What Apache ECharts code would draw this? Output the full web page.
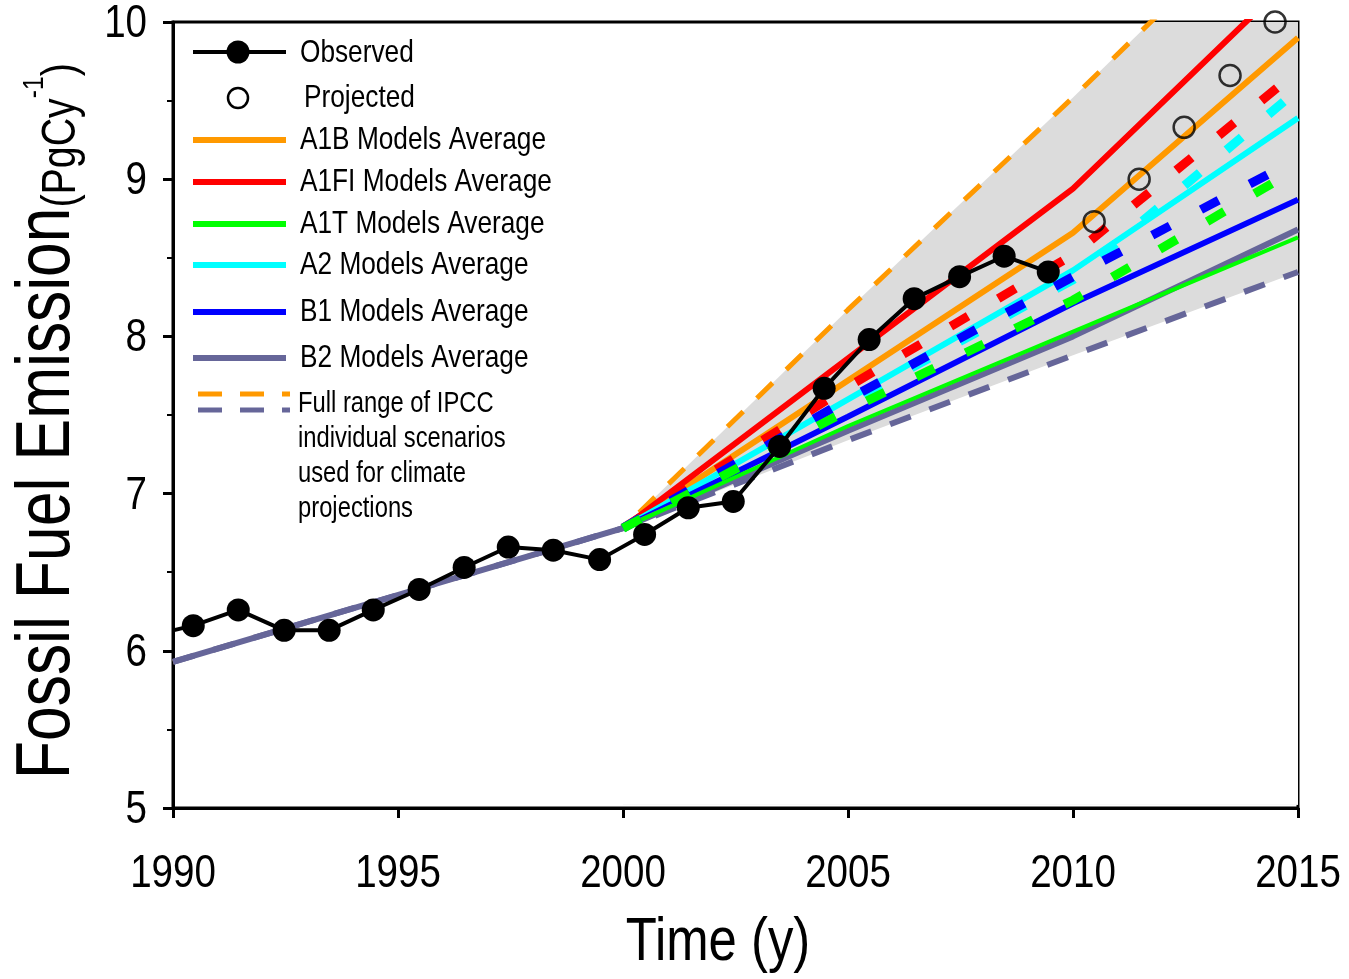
<!DOCTYPE html>
<html><head><meta charset="utf-8">
<script src="https://cdn.jsdelivr.net/npm/echarts@6/dist/echarts.min.js"></script>
<style>html,body{margin:0;padding:0;background:#fff}#c{width:1349px;height:979px}</style>
</head><body><div id="c"></div>
<script>
const FONT = '"Liberation Sans", Arial, sans-serif';
const NARROW = 0.82; // horizontal squeeze to mimic a condensed face

// ---- data ----
const xTicks = [1990, 1995, 2000, 2005, 2010, 2015];
const yTicks = [5, 6, 7, 8, 9, 10];

const obsYears  = [1990, 1990.45, 1991.45, 1992.47, 1993.47, 1994.45, 1995.47, 1996.47, 1997.45, 1998.45, 1999.48,
                   2000.48, 2001.45, 2002.45, 2003.48, 2004.47, 2005.47, 2006.47, 2007.48, 2008.47, 2009.45];
const obsValues = [6.13, 6.16, 6.26, 6.13, 6.13, 6.26, 6.39, 6.53, 6.66, 6.64, 6.58,
                   6.74, 6.91, 6.95, 7.30, 7.67, 7.98, 8.24, 8.38, 8.51, 8.41];

const projYears  = [2010.47, 2011.47, 2012.47, 2013.49, 2014.49];
const projValues = [8.73, 9.00, 9.33, 9.66, 10.00];

const histYears  = [1990, 2000];
const histValues = [5.93, 6.78];

const scenYears = [2000, 2005, 2010, 2015];
const a1bAvg  = [6.78, 7.72, 8.66, 9.90];
const a1fiAvg = [6.78, 7.86, 8.94, 10.32];
const a1tAvg  = [6.78, 7.43, 8.03, 8.63];
const a2Avg   = [6.78, 7.60, 8.42, 9.39];
const b1Avg   = [6.78, 7.49, 8.21, 8.87];
const b2Avg   = [6.78, 7.40, 8.00, 8.68];

const a1fiAlt = [6.78, 7.68, 8.52, 9.69];
const a2Alt   = [6.78, 7.58, 8.36, 9.57];
const b1Alt   = [6.78, 7.60, 8.38, 9.13];
const a1tAlt  = [6.78, 7.53, 8.23, 9.07];

const rangeYears = [1990, 2000, 2005, 2010, 2015];
const rangeHigh  = [5.93, 6.78, 8.17, 9.52, 10.91];
const rangeLow   = [5.93, 6.78, 7.34, 7.88, 8.41];

// ---- helpers ----
const pairs = (xs, ys) => xs.map((x, i) => [x, ys[i]]);
const fillHigh = pairs(rangeYears, rangeHigh).filter(p => p[0] >= 2000);
const fillLow  = pairs(rangeYears, rangeLow).filter(p => p[0] >= 2000);
const b2Full = pairs(histYears, histValues).concat(pairs(scenYears, b2Avg).slice(1));
const AREA_FLOOR = yTicks[0] + 0.02; // keep fill off the axis line

function solid(name, data, color, width) {
  return { name, type: 'line', data, symbol: 'none', silent: true,
    lineStyle: { color, width, cap: 'butt' }, z: 3 };
}
function dashed(name, data, color, width, dash, z) {
  return { name, type: 'line', data, symbol: 'none', silent: true,
    lineStyle: { color, width, type: dash, cap: 'butt' }, z: z || 4 };
}
function txt(x, y, text, size, extra) {
  return Object.assign({ type: 'text', x, y, scaleX: NARROW, z: 100,
    style: Object.assign({ text, fontSize: size, fontFamily: FONT, fill: '#000', verticalAlign: 'middle' }, extra || {}) });
}

const legendRows = [
  { label: 'A1B Models Average',  color: '#FF9900', y: 140 },
  { label: 'A1FI Models Average', color: '#FF0000', y: 182 },
  { label: 'A1T Models Average',  color: '#00FF00', y: 224 },
  { label: 'A2 Models Average',   color: '#00FFFF', y: 265 },
  { label: 'B1 Models Average',   color: '#0000FF', y: 312 },
  { label: 'B2 Models Average',   color: '#666699', y: 358 }
];

const graphic = [];
graphic.push({ type: 'line', shape: { x1: 193, y1: 52, x2: 286, y2: 52 }, style: { stroke: '#000', lineWidth: 4 } });
graphic.push({ type: 'circle', shape: { cx: 238, cy: 52, r: 11.5 }, style: { fill: '#000' } });
graphic.push(txt(300, 53, 'Observed', 32));
graphic.push({ type: 'circle', shape: { cx: 238, cy: 98, r: 10 }, style: { fill: 'none', stroke: '#000', lineWidth: 2.5 } });
graphic.push(txt(304, 98, 'Projected', 32));
legendRows.forEach(r => {
  graphic.push({ type: 'line', shape: { x1: 193, y1: r.y, x2: 286, y2: r.y }, style: { stroke: r.color, lineWidth: 6 } });
  graphic.push(txt(300, r.y, r.label, 32));
});
graphic.push({ type: 'line', shape: { x1: 198, y1: 394, x2: 290, y2: 394 }, style: { stroke: '#FF9900', lineWidth: 5, lineDash: [24, 18] } });
graphic.push({ type: 'line', shape: { x1: 198, y1: 410, x2: 290, y2: 410 }, style: { stroke: '#666699', lineWidth: 5, lineDash: [24, 18] } });
graphic.push(txt(298, 386, 'Full range of IPCC\nindividual scenarios\nused for climate\nprojections', 29,
  { lineHeight: 35, verticalAlign: 'top' }));
// axis titles
graphic.push(txt(718, 943, 'Time (y)', 62, { align: 'center' }));
graphic.push({
  type: 'text', x: 86, y: 779, rotation: Math.PI / 2, scaleX: NARROW, z: 100,
  style: {
    text: '{a|Fossil Fuel Emission}{b|(PgCy}{c|-1}{b|)}',
    align: 'left', verticalAlign: 'bottom',
    rich: {
      a: { fontSize: 76, lineHeight: 76, fontFamily: FONT, fill: '#000', verticalAlign: 'bottom' },
      b: { fontSize: 48, lineHeight: 48, fontFamily: FONT, fill: '#000', verticalAlign: 'bottom' },
      c: { fontSize: 30, fontFamily: FONT, fill: '#000', verticalAlign: 'top', padding: [10, 0, 0, 0] }
    }
  }
});

const labelStyle = { fontSize: 47, fontFamily: FONT, fill: '#000', verticalAlign: 'middle' };

const option = {
  animation: false,
  backgroundColor: '#fff',
  grid: { left: 173, right: 51, top: 22, bottom: 171, show: true, borderColor: '#000', borderWidth: 3, backgroundColor: 'transparent' },
  xAxis: {
    type: 'value', min: xTicks[0], max: xTicks[xTicks.length - 1], interval: 5,
    axisLine: { lineStyle: { color: '#000', width: 3 } },
    axisTick: { length: 10, lineStyle: { color: '#000', width: 3 } },
    axisLabel: { show: false },
    splitLine: { show: false }
  },
  yAxis: {
    type: 'value', min: yTicks[0], max: yTicks[yTicks.length - 1], interval: 1,
    axisLine: { lineStyle: { color: '#000', width: 3 } },
    axisTick: { length: 10, lineStyle: { color: '#000', width: 3 } },
    minorTick: { show: true, splitNumber: 2, length: 6, lineStyle: { color: '#000', width: 2 } },
    minorSplitLine: { show: false },
    axisLabel: { show: false },
    splitLine: { show: false }
  },
  graphic: graphic,
  series: [
    { name: 'rangeHighFill', type: 'line', data: fillHigh, symbol: 'none', silent: true,
      lineStyle: { width: 0, opacity: 0 }, areaStyle: { color: '#dcdcdc', opacity: 1, origin: AREA_FLOOR }, z: 1 },
    { name: 'rangeLowMask', type: 'line', data: fillLow, symbol: 'none', silent: true,
      lineStyle: { width: 0, opacity: 0 }, areaStyle: { color: '#ffffff', opacity: 1, origin: AREA_FLOOR }, z: 1 },
    dashed('Full range high', pairs(rangeYears, rangeHigh), '#FF9900', 5, [22, 19], 2),
    dashed('Full range low', pairs(rangeYears, rangeLow), '#666699', 6, [22, 20], 2),
    solid('A1B Models Average', pairs(scenYears, a1bAvg), '#FF9900', 6),
    solid('A1FI Models Average', pairs(scenYears, a1fiAvg), '#FF0000', 6),
    solid('A2 Models Average', pairs(scenYears, a2Avg), '#00FFFF', 6),
    solid('B1 Models Average', pairs(scenYears, b1Avg), '#0000FF', 6),
    solid('B2 Models Average', b2Full, '#666699', 6),
    solid('A1T Models Average', pairs(scenYears, a1tAvg), '#00FF00', 4),
    dashed('A1FI alt', pairs(scenYears, a1fiAlt), '#FF0000', 9, [20, 35]),
    dashed('A2 alt', pairs(scenYears, a2Alt), '#00FFFF', 9, [20, 35]),
    dashed('B1 alt', pairs(scenYears, b1Alt), '#0000FF', 9, [20, 35]),
    dashed('A1T alt', pairs(scenYears, a1tAlt), '#00FF00', 9, [20, 35]),
    { name: 'Observed', type: 'line', silent: true, z: 6,
      data: obsYears.map((x, i) => i === 0 ? { value: [x, obsValues[i]], symbol: 'none' } : [x, obsValues[i]]),
      symbol: 'circle', symbolSize: 23, showAllSymbol: true,
      itemStyle: { color: '#000' }, lineStyle: { color: '#000', width: 4 } },
    { name: 'Projected', type: 'scatter', silent: true, z: 7, clip: false,
      data: pairs(projYears, projValues), symbol: 'circle', symbolSize: 21,
      itemStyle: { color: 'rgba(0,0,0,0)', borderColor: '#000', borderWidth: 2.5 } },
    // tick labels, placed through the axes' own scales
    { name: 'xTickLabels', type: 'custom', silent: true, clip: false, z: 10,
      data: xTicks.map(v => [v, yTicks[0]]),
      renderItem: (params, api) => {
        const p = api.coord([api.value(0), api.value(1)]);
        return { type: 'text', x: p[0], y: p[1] + 66, scaleX: NARROW,
          style: Object.assign({ text: String(api.value(0)), align: 'center' }, labelStyle) };
      } },
    { name: 'yTickLabels', type: 'custom', silent: true, clip: false, z: 10,
      data: yTicks.map(v => [xTicks[0], v]),
      renderItem: (params, api) => {
        const p = api.coord([api.value(0), api.value(1)]);
        return { type: 'text', x: p[0] - 26, y: p[1] + 2, scaleX: NARROW,
          style: Object.assign({ text: String(api.value(1)), align: 'right' }, labelStyle) };
      } }
  ]
};
const chart = echarts.init(document.getElementById('c'), null, { renderer: 'canvas' });
chart.setOption(option);
</script>
</body></html>
